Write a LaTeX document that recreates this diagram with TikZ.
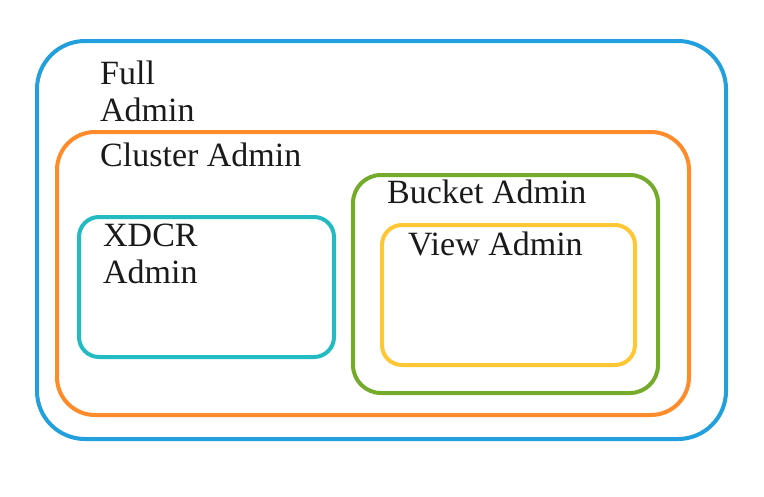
\documentclass[tikz,border=0pt]{standalone}
\usepackage{fontspec}
\setmainfont{Liberation Serif}
\definecolor{fullblue}{HTML}{22A0DE}
\definecolor{clusterorange}{HTML}{FF8B2A}
\definecolor{xdcrteal}{HTML}{22BBC1}
\definecolor{bucketgreen}{HTML}{74AB2B}
\definecolor{viewyellow}{HTML}{FFC734}
\definecolor{labelblack}{HTML}{1A1A1A}
\tikzset{
  lbl/.style={anchor=base west, inner sep=0pt, align=left, text=labelblack,
    font=\fontsize{34}{37}\selectfont},
  role/.style={line width=4pt}
}
\begin{document}
\begin{tikzpicture}[x=1pt,y=-1pt]
\useasboundingbox (0,0) rectangle (764,496);
\draw [role, fullblue, rounded corners=48pt] (37,41) rectangle (726,439);
\draw [role, clusterorange, rounded corners=38pt] (57,132) rectangle (689,415);
\draw [role, xdcrteal, rounded corners=20pt] (79,217) rectangle (334,357);
\draw [role, bucketgreen, rounded corners=28pt] (353,175) rectangle (658,393);
\draw [role, viewyellow, rounded corners=20pt] (382,225) rectangle (635,365);
% two-line labels sit on the baseline of their last line
\draw (100,121) node[lbl] (full) {Full\\Admin};
\draw (100,166) node[lbl] (cluster) {Cluster Admin};
\draw (103,283) node[lbl] (xdcr) {XDCR\\Admin};
\draw (387,203) node[lbl] (bucket) {Bucket Admin};
\draw (408,255) node[lbl] (view) {View Admin};
\end{tikzpicture}
\end{document}
